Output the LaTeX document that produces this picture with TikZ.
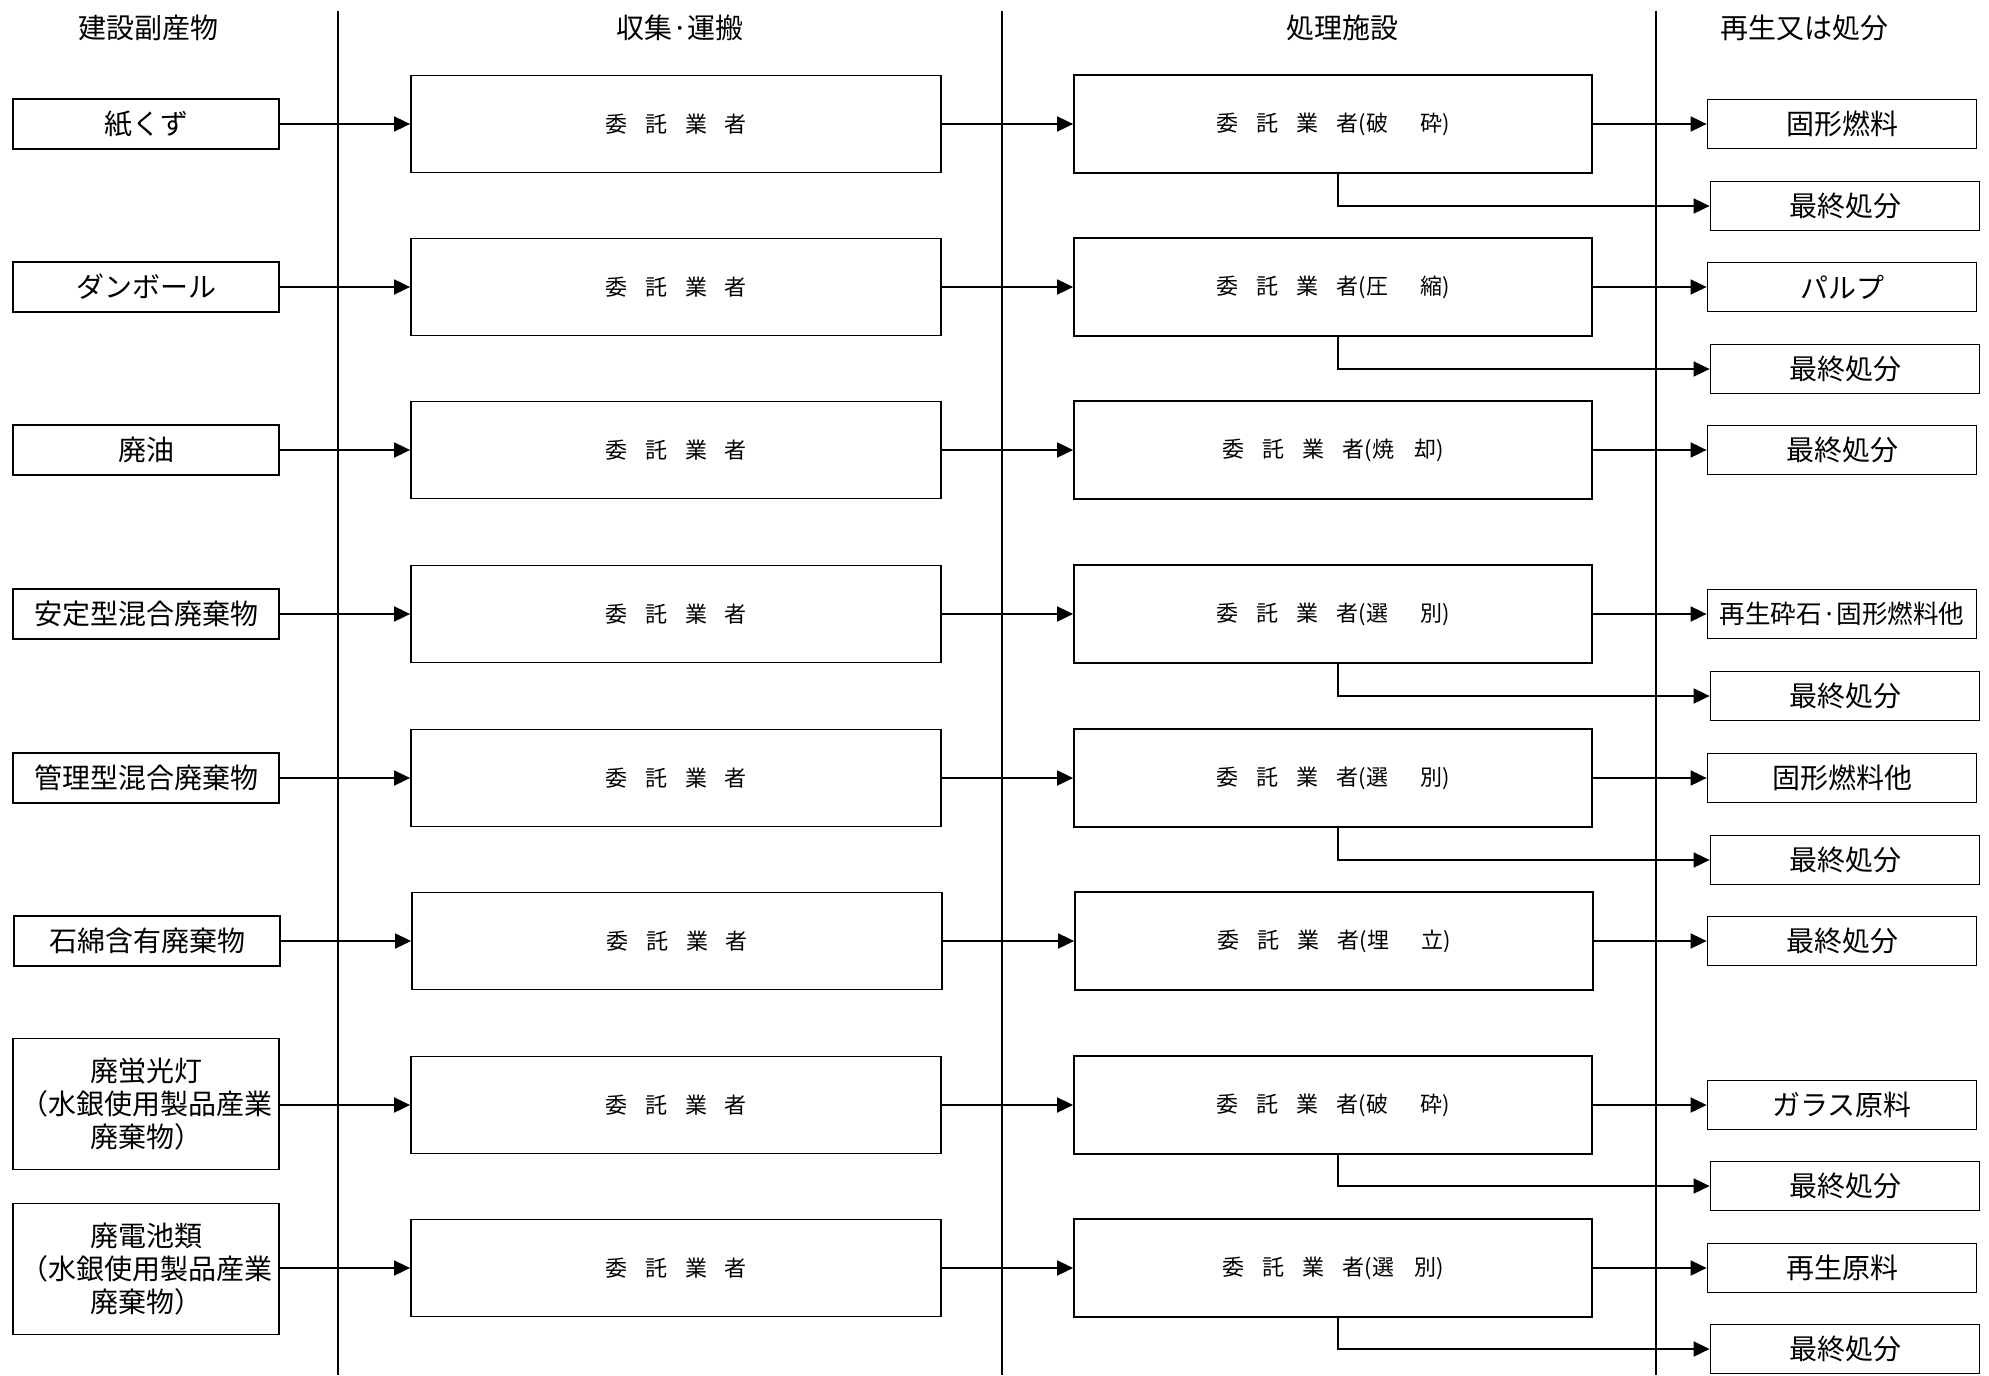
\documentclass[tikz,border=0pt]{standalone}
\usepackage{fontspec}
\setmainfont{Noto Sans CJK JP}
\usetikzlibrary{arrows.meta}

\newcommand{\itaku}{委\hspace{9pt}託\hspace{9pt}業\hspace{9pt}者}
\newcommand{\shori}[3]{\itaku(#1\hspace{#3}#2)}

\tikzset{
  every node/.style={inner sep=0pt},
  head/.style={font=\fontsize{14pt}{17pt}\selectfont},
  srcbox/.style={draw, line width=0.9pt, minimum width=133pt, minimum height=25pt,
    align=center, font=\fontsize{14pt}{16.5pt}\selectfont},
  tallbox/.style={srcbox, minimum height=65.5pt},
  agentbox/.style={draw, line width=0.9pt, minimum width=265pt, minimum height=48.5pt,
    font=\fontsize{11pt}{13pt}\selectfont},
  plantbox/.style={agentbox, minimum width=259pt, minimum height=49pt},
  outbox/.style={draw, line width=0.9pt, minimum width=134.5pt, minimum height=24.5pt,
    font=\fontsize{14pt}{16.5pt}\selectfont},
  flow/.style={line width=0.9pt, -{Triangle[length=8pt,width=7.5pt]}},
}

\begin{document}
\begin{tikzpicture}[x=0.5pt,y=-0.5pt]
\useasboundingbox (0,0) rectangle (1989,1375);
% column titles and separators
\node[head] (h1) at (148,28) {建設副産物};
\node[head] (h2) at (680,28) {収集·運搬};
\node[head] (h3) at (1342,28) {処理施設};
\node[head] (h4) at (1804,28) {再生又は処分};
\draw[line width=0.7pt] (338,11) -- (338,1375);
\draw[line width=0.7pt] (1002,11) -- (1002,1375);
\draw[line width=0.7pt] (1656,11) -- (1656,1375);

% 紙くず
\node[srcbox] (s1) at (146,124) {紙くず};
\node[agentbox] (a1) at (676,124) {\itaku};
\node[plantbox] (p1) at (1333,124) {\shori{破}{砕}{16pt}};
\node[outbox] (r1) at (1842,124) {固形燃料};
\node[outbox] (f1) at (1845,206) {最終処分};
\draw[flow] (s1) -- (a1);
\draw[flow] (a1) -- (p1);
\draw[flow] (p1) -- (r1);
\draw[flow] ([xshift=2.5pt]p1.south) |- (f1.west);

% ダンボール
\node[srcbox] (s2) at (146,287) {ダンボール};
\node[agentbox] (a2) at (676,287) {\itaku};
\node[plantbox] (p2) at (1333,287) {\shori{圧}{縮}{16pt}};
\node[outbox] (r2) at (1842,287) {パルプ};
\node[outbox] (f2) at (1845,369) {最終処分};
\draw[flow] (s2) -- (a2);
\draw[flow] (a2) -- (p2);
\draw[flow] (p2) -- (r2);
\draw[flow] ([xshift=2.5pt]p2.south) |- (f2.west);

% 廃油
\node[srcbox] (s3) at (146,450) {廃油};
\node[agentbox] (a3) at (676,450) {\itaku};
\node[plantbox] (p3) at (1333,450) {\shori{焼}{却}{10pt}};
\node[outbox] (r3) at (1842,450) {最終処分};
\draw[flow] (s3) -- (a3);
\draw[flow] (a3) -- (p3);
\draw[flow] (p3) -- (r3);

% 安定型混合廃棄物
\node[srcbox] (s4) at (146,614) {安定型混合廃棄物};
\node[agentbox] (a4) at (676,614) {\itaku};
\node[plantbox] (p4) at (1333,614) {\shori{選}{別}{16pt}};
\node[outbox, font=\fontsize{12.8pt}{15pt}\selectfont] (r4) at (1842,614) {再生砕石·固形燃料他};
\node[outbox] (f4) at (1845,696) {最終処分};
\draw[flow] (s4) -- (a4);
\draw[flow] (a4) -- (p4);
\draw[flow] (p4) -- (r4);
\draw[flow] ([xshift=2.5pt]p4.south) |- (f4.west);

% 管理型混合廃棄物
\node[srcbox] (s5) at (146,778) {管理型混合廃棄物};
\node[agentbox] (a5) at (676,778) {\itaku};
\node[plantbox] (p5) at (1333,778) {\shori{選}{別}{16pt}};
\node[outbox] (r5) at (1842,778) {固形燃料他};
\node[outbox] (f5) at (1845,860) {最終処分};
\draw[flow] (s5) -- (a5);
\draw[flow] (a5) -- (p5);
\draw[flow] (p5) -- (r5);
\draw[flow] ([xshift=2.5pt]p5.south) |- (f5.west);

% 石綿含有廃棄物
\node[srcbox] (s6) at (147,941) {石綿含有廃棄物};
\node[agentbox] (a6) at (677,941) {\itaku};
\node[plantbox] (p6) at (1334,941) {\shori{埋}{立}{16pt}};
\node[outbox] (r6) at (1842,941) {最終処分};
\draw[flow] (s6) -- (a6);
\draw[flow] (a6) -- (p6);
\draw[flow] (p6) -- (r6);

% 廃蛍光灯
\node[tallbox] (s7) at (146,1104) {廃蛍光灯\\（水銀使用製品産業\\廃棄物）};
\node[agentbox] (a7) at (676,1105) {\itaku};
\node[plantbox] (p7) at (1333,1105) {\shori{破}{砕}{16pt}};
\node[outbox] (r7) at (1842,1105) {ガラス原料};
\node[outbox] (f7) at (1845,1186) {最終処分};
\draw[flow] (s7.east |- a7) -- (a7);
\draw[flow] (a7) -- (p7);
\draw[flow] (p7) -- (r7);
\draw[flow] ([xshift=2.5pt]p7.south) |- (f7.west);

% 廃電池類
\node[tallbox] (s8) at (146,1269) {廃電池類\\（水銀使用製品産業\\廃棄物）};
\node[agentbox] (a8) at (676,1268) {\itaku};
\node[plantbox] (p8) at (1333,1268) {\shori{選}{別}{10pt}};
\node[outbox] (r8) at (1842,1268) {再生原料};
\node[outbox] (f8) at (1845,1349) {最終処分};
\draw[flow] (s8.east |- a8) -- (a8);
\draw[flow] (a8) -- (p8);
\draw[flow] (p8) -- (r8);
\draw[flow] ([xshift=2.5pt]p8.south) |- (f8.west);
\end{tikzpicture}
\end{document}
